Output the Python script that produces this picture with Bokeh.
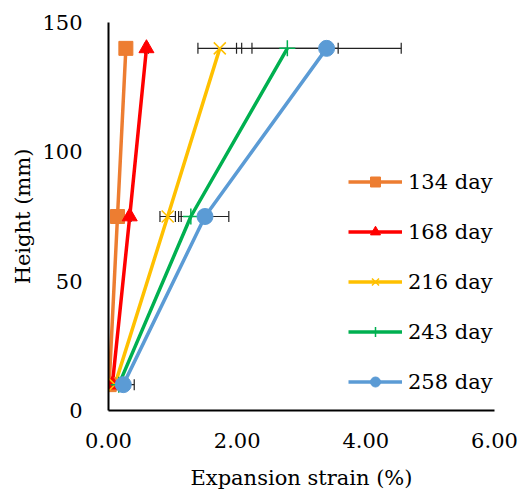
from bokeh.plotting import figure
from bokeh.models import (Range1d, FixedTicker, NumeralTickFormatter, Whisker,
                          ColumnDataSource, Legend, LegendItem, TeeHead)
from bokeh.embed import file_html
from bokeh.resources import INLINE

heights = [10, 75, 140]
series_names = ["134 day", "168 day", "216 day", "243 day", "258 day"]
strain_134 = [0.01, 0.14, 0.27]
strain_168 = [0.06, 0.33, 0.59]
strain_216 = [0.10, 0.92, 1.73]
strain_243 = [0.16, 1.28, 2.78]
strain_258 = [0.23, 1.50, 3.39]
err_134 = [0.01, 0.01, 0.01]
err_168 = [0.01, 0.02, 0.03]
err_216 = [0.02, 0.12, 0.34]
err_243 = [0.03, 0.19, 0.79]
err_258 = [0.17, 0.37, 1.16]
x_ticks = [0, 2, 4, 6]
y_ticks = [0, 50, 100, 150]

colors = ["#ED7D31", "#FF0000", "#FFC000", "#00B050", "#5B9BD5"]
markers = ["square", "triangle", "x", "cross", "circle"]
msizes = [14, 15, 17, 16, 16]
mlw = [1, 1, 1.5, 1.5, 1]
strains = [strain_134, strain_168, strain_216, strain_243, strain_258]
errs = [err_134, err_168, err_216, err_243, err_258]

FONT = "DejaVu Serif"
FS = "21px"

p = figure(width=523, height=492, output_backend="svg", toolbar_location=None,
           x_range=Range1d(0, 6), y_range=Range1d(0, 150),
           min_border_left=108, min_border_right=29, min_border_top=22,
           min_border_bottom=82)
p.outline_line_color = None
p.xgrid.visible = False
p.ygrid.visible = False
p.background_fill_color = "white"

for ax in (p.xaxis[0], p.yaxis[0]):
    ax.axis_line_color = "black"
    ax.axis_line_width = 2
    ax.major_tick_line_color = None
    ax.minor_tick_line_color = None
    ax.major_tick_in = 0
    ax.major_tick_out = 0
    ax.major_label_text_font = FONT
    ax.major_label_text_font_size = FS
    ax.major_label_text_font_style = "normal"
    ax.major_label_text_color = "black"
    ax.axis_label_text_font = FONT
    ax.axis_label_text_font_size = FS
    ax.axis_label_text_font_style = "normal"
    ax.axis_label_text_color = "black"

p.xaxis.ticker = FixedTicker(ticks=x_ticks)
p.yaxis.ticker = FixedTicker(ticks=y_ticks)
p.xaxis.formatter = NumeralTickFormatter(format="0.00")
p.xaxis.axis_label = "Expansion strain (%)"
p.yaxis.axis_label = "Height (mm)"
p.xaxis.major_label_standoff = 22
p.xaxis.axis_label_standoff = 15
p.yaxis.major_label_standoff = 26
p.yaxis.axis_label_standoff = 4

items = []
line_rs = []
srcs = []
for name, s, e, c in zip(series_names, strains, errs, colors):
    src = ColumnDataSource(dict(
        x=s, y=heights,
        lo=[a - b for a, b in zip(s, e)],
        hi=[a + b for a, b in zip(s, e)]))
    srcs.append(src)
    r = p.line("x", "y", source=src, line_color=c, line_width=3.5)
    line_rs.append(r)

for src in srcs:
    w = Whisker(source=src, base="y", lower="lo", upper="hi", dimension="width",
                line_color="#222222", line_width=1.2,
                lower_head=TeeHead(size=11, line_color="#222222", line_width=1.2),
                upper_head=TeeHead(size=11, line_color="#222222", line_width=1.2))
    p.add_layout(w)

for name, src, c, m, ms, lw, lr in zip(series_names, srcs, colors, markers,
                                       msizes, mlw, line_rs):
    sr = p.scatter("x", "y", source=src, marker=m, size=ms, fill_color=c,
                   line_color=c, line_width=lw)
    items.append(LegendItem(label=name, renderers=[lr, sr]))

legend = Legend(items=items, location=(240, 16), padding=0, margin=0,
                glyph_width=54, glyph_height=25, label_height=25, spacing=25,
                label_standoff=6, label_text_font=FONT, label_text_font_size=FS,
                label_text_font_style="normal",
                label_text_color="black", border_line_color=None,
                background_fill_alpha=0)
p.add_layout(legend, "center")

open("out.html", "w").write(file_html(p, INLINE))
